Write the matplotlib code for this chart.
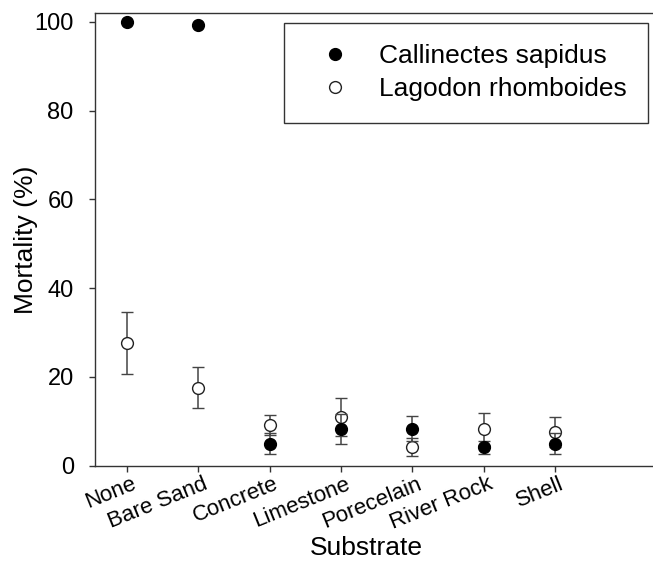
import matplotlib
matplotlib.use("Agg")
import matplotlib.pyplot as plt
from matplotlib.lines import Line2D
from matplotlib.transforms import ScaledTranslation
import numpy as np

plt.rcParams['font.family'] = ['Liberation Sans', 'DejaVu Sans']

categories = ["None", "Bare Sand", "Concrete", "Limestone", "Porecelain", "River Rock", "Shell"]
callinectes = [100.0, 99.2, 5.0, 8.3, 8.3, 4.1, 5.0]
callinectes_err = [0.0, 0.0, 2.4, 3.3, 2.8, 1.5, 2.4]
lagodon = [27.6, 17.6, 9.2, 10.9, 4.2, 8.3, 7.5]
lagodon_err = [7.0, 4.7, 2.3, 4.3, 2.0, 3.6, 3.4]
yticks = [0, 20, 40, 60, 80, 100]

W, H = 653, 563
fig = plt.figure(figsize=(W / 100, H / 100), dpi=100)
left, bottom, top, right = 95, 465.7, 13, 653
ax = fig.add_axes([left / W, 1 - bottom / H, (right - left) / W, (bottom - top) / H])

x = np.arange(len(categories))
ecol = '#444444'
ax.errorbar(x, lagodon, yerr=lagodon_err, fmt='o', color=ecol, ecolor=ecol,
            mfc='white', mec='#222222', ms=8.5, mew=1.0, capsize=4, elinewidth=1.1,
            capthick=1.1, zorder=3)
ax.errorbar(x, callinectes, yerr=callinectes_err, fmt='o', color=ecol, ecolor=ecol,
            mfc='black', mec='black', ms=8.5, mew=1.0, capsize=4, elinewidth=1.1,
            capthick=1.1, zorder=4)

ax.set_xlim(-(127 - left) / 71.4, 6 + (653 - 555) / 71.4)
ax.set_ylim(0, 101.96)
ax.set_yticks(yticks)
ax.set_xticks(x)
ax.set_xticklabels(categories, rotation=22, ha='right', va='top',
                   rotation_mode='anchor', fontsize=16)
ax.tick_params(axis='y', labelsize=17, length=4.3, width=1, color='#333333', pad=11)
ax.tick_params(axis='x', length=4.3, width=1, color='#333333', pad=0)
shift = ScaledTranslation(4 / 100, -2 / 100, fig.dpi_scale_trans)
for lab in ax.get_xticklabels():
    lab.set_transform(lab.get_transform() + shift)
for s in ['left', 'bottom', 'top']:
    ax.spines[s].set_color('#333333')
    ax.spines[s].set_linewidth(1.0)
ax.spines['right'].set_visible(False)

ax.set_ylabel('Mortality (%)', fontsize=19)
ax.yaxis.set_label_coords((38 - left) / (right - left), 0.5)
ax.set_xlabel('Substrate', fontsize=19)
ax.xaxis.set_label_coords((366 - left) / (right - left), (bottom - 536) / (bottom - top))

h1 = Line2D([], [], ls='none', marker='o', mfc='black', mec='black', ms=8.5)
h2 = Line2D([], [], ls='none', marker='o', mfc='white', mec='#222222', ms=8.5)
leg = fig.legend([h1, h2], ['Callinectes sapidus', 'Lagodon rhomboides'],
                 loc='upper right', bbox_to_anchor=(648.3 / W, 1 - 22.7 / H),
                 bbox_transform=fig.transFigure, borderaxespad=0, fontsize=19,
                 fancybox=False, framealpha=1, edgecolor='#333333',
                 borderpad=0.82, labelspacing=0.33, handlelength=2.26, handletextpad=0.53)
leg.get_frame().set_linewidth(1.0)

fig.savefig('out.png', dpi=100)
